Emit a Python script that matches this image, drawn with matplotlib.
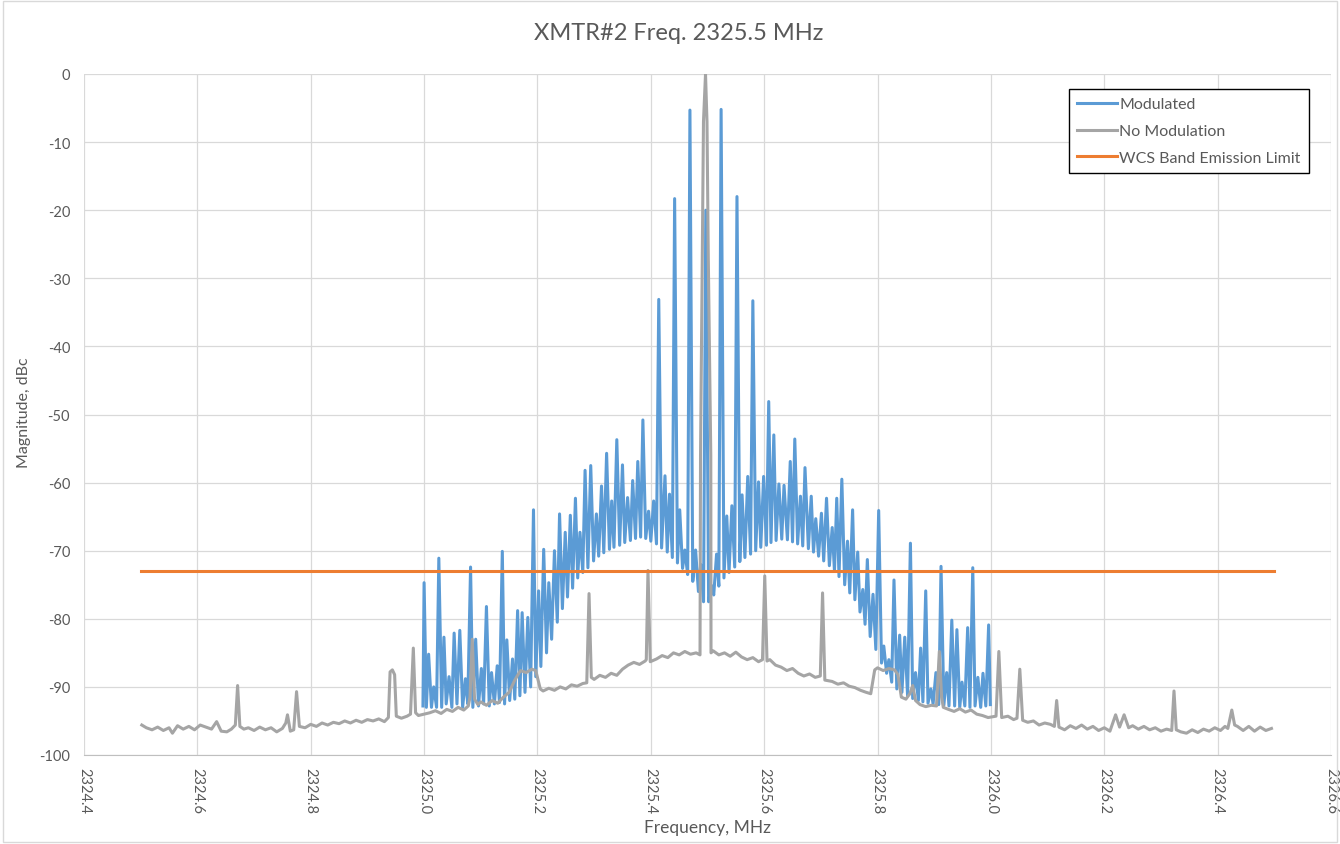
import numpy as np
import matplotlib.pyplot as plt
from matplotlib.patches import Rectangle

plt.rcParams['font.family'] = ['Lato', 'DejaVu Sans']
plt.rcParams['axes.unicode_minus'] = False

# Modulated trace: tops of the comb lines (MHz, dBc)
mod_peak_f = [
    2325.000, 2325.008, 2325.017, 2325.026, 2325.035, 2325.044, 2325.053, 2325.063, 2325.073, 2325.082,
    2325.091, 2325.101, 2325.110, 2325.119, 2325.129, 2325.138, 2325.146, 2325.156, 2325.165, 2325.173,
    2325.183, 2325.193, 2325.202, 2325.211, 2325.220, 2325.230, 2325.239, 2325.249, 2325.258, 2325.267,
    2325.275, 2325.284, 2325.294, 2325.304, 2325.313, 2325.322, 2325.331, 2325.340, 2325.350, 2325.359,
    2325.368, 2325.377, 2325.386, 2325.396, 2325.405, 2325.414, 2325.425, 2325.433, 2325.442, 2325.451,
    2325.460, 2325.469, 2325.479, 2325.488, 2325.497, 2325.507, 2325.516, 2325.524, 2325.534, 2325.543,
    2325.552, 2325.561, 2325.571, 2325.580, 2325.590, 2325.599, 2325.608, 2325.617, 2325.626, 2325.635,
    2325.646, 2325.654, 2325.664, 2325.672, 2325.683, 2325.691, 2325.701, 2325.710, 2325.720, 2325.728,
    2325.737, 2325.747, 2325.756, 2325.765, 2325.774, 2325.782, 2325.792, 2325.802, 2325.811, 2325.820,
    2325.829, 2325.839, 2325.848, 2325.858, 2325.867, 2325.876, 2325.885, 2325.894, 2325.903, 2325.912,
    2325.922, 2325.931, 2325.940, 2325.949, 2325.959, 2325.968, 2325.977, 2325.986, 2325.996]
mod_peak_db = [
    -74.7, -85.2, -90.0, -71.1, -82.7, -88.5, -82.1, -81.7, -88.8, -72.4,
    -83.0, -87.3, -78.2, -87.9, -86.9, -70.1, -83.1, -85.9, -78.8, -79.1,
    -79.8, -64.0, -75.9, -69.8, -74.7, -70.0, -64.6, -67.3, -64.8, -62.3,
    -67.3, -58.2, -57.5, -64.6, -60.5, -55.7, -62.7, -53.7, -57.4, -62.2,
    -59.7, -56.9, -50.8, -64.2, -62.7, -33.1, -59.0, -61.7, -18.3, -64.0,
    -69.9, -5.3, -69.9, -72.0, -20.0, -75.1, -70.5, -5.2, -64.9, -63.4,
    -18.0, -61.8, -59.1, -33.3, -59.9, -59.1, -48.1, -53.0, -60.2, -60.4,
    -56.9, -53.6, -62.0, -57.8, -62.0, -65.3, -64.5, -62.3, -66.6, -62.3,
    -59.5, -68.6, -64.0, -70.2, -75.7, -71.3, -76.4, -64.1, -84.0, -86.0,
    -74.3, -82.4, -82.7, -68.9, -87.9, -84.3, -75.9, -90.3, -87.9, -72.3,
    -87.9, -80.2, -81.6, -89.3, -81.3, -72.5, -88.6, -88.0, -80.9]

# Modulated trace: floor between the comb lines
mod_dip_f = [
    2324.998,
    2325.004, 2325.013, 2325.022, 2325.031, 2325.039, 2325.049, 2325.058, 2325.068, 2325.077, 2325.086,
    2325.096, 2325.105, 2325.115, 2325.124, 2325.133, 2325.142, 2325.151, 2325.160, 2325.169, 2325.178,
    2325.188, 2325.197, 2325.206, 2325.216, 2325.225, 2325.235, 2325.244, 2325.253, 2325.262, 2325.271,
    2325.280, 2325.289, 2325.299, 2325.308, 2325.317, 2325.327, 2325.335, 2325.345, 2325.354, 2325.364,
    2325.373, 2325.382, 2325.391, 2325.400, 2325.410, 2325.419, 2325.429, 2325.438, 2325.447, 2325.456,
    2325.465, 2325.474, 2325.484, 2325.493, 2325.502, 2325.511, 2325.520, 2325.529, 2325.538, 2325.548,
    2325.557, 2325.566, 2325.576, 2325.585, 2325.594, 2325.604, 2325.612, 2325.621, 2325.631, 2325.641,
    2325.650, 2325.659, 2325.668, 2325.678, 2325.687, 2325.696, 2325.705, 2325.715, 2325.724, 2325.732,
    2325.742, 2325.751, 2325.760, 2325.769, 2325.778, 2325.787, 2325.797, 2325.807, 2325.816, 2325.825,
    2325.834, 2325.843, 2325.853, 2325.862, 2325.872, 2325.880, 2325.889, 2325.898, 2325.908, 2325.917,
    2325.926, 2325.936, 2325.945, 2325.954, 2325.963, 2325.972, 2325.982, 2325.991,
    2325.999]
mod_dip_db = [
    -92.8,
    -93.0, -93.0, -93.0, -93.0, -92.5, -93.0, -92.5, -93.0, -92.5, -93.0,
    -92.8, -92.5, -92.8, -92.5, -92.3, -92.5, -92.0, -91.8, -91.3, -90.8,
    -90.0, -88.5, -87.0, -85.0, -83.0, -80.5, -78.5, -76.8, -75.5, -74.0,
    -73.2, -72.5, -71.5, -70.8, -70.3, -69.8, -69.5, -69.2, -68.8, -68.5,
    -68.2, -68.0, -68.2, -68.6, -69.0, -69.6, -70.2, -71.0, -71.8, -72.6,
    -73.5, -74.5, -76.0, -77.5, -77.5, -76.5, -75.2, -74.0, -73.2, -72.4,
    -71.6, -71.0, -70.5, -70.0, -69.5, -69.2, -68.8, -68.5, -68.3, -68.4,
    -68.7, -69.0, -69.3, -69.7, -70.2, -70.8, -71.5, -72.2, -73.0, -73.8,
    -75.0, -76.2, -77.2, -79.0, -80.8, -82.6, -84.5, -86.5, -88.0, -89.3,
    -90.3, -90.8, -91.3, -91.7, -92.0, -92.2, -92.4, -92.5, -92.6, -92.7,
    -92.8, -92.8, -93.0, -92.8, -93.0, -92.8, -93.0, -92.8,
    -92.6]

# No Modulation trace (MHz, dBc)
nomod_f = [
    2324.502, 2324.510, 2324.520, 2324.530, 2324.540, 2324.550, 2324.556, 2324.565, 2324.575, 2324.585,
    2324.595, 2324.605, 2324.615, 2324.625, 2324.634, 2324.642, 2324.652, 2324.660, 2324.667, 2324.671,
    2324.675, 2324.682, 2324.690, 2324.700, 2324.710, 2324.720, 2324.730, 2324.740, 2324.750, 2324.756,
    2324.759, 2324.764, 2324.770, 2324.775, 2324.780, 2324.790, 2324.800, 2324.810, 2324.820, 2324.830,
    2324.840, 2324.850, 2324.860, 2324.870, 2324.880, 2324.890, 2324.900, 2324.910, 2324.920, 2324.930,
    2324.937, 2324.940, 2324.944, 2324.948, 2324.951, 2324.960, 2324.970, 2324.976, 2324.981, 2324.985,
    2324.990, 2325.000, 2325.010, 2325.020, 2325.030, 2325.040, 2325.050, 2325.060, 2325.070, 2325.078,
    2325.081, 2325.085, 2325.089, 2325.095, 2325.100, 2325.110, 2325.120, 2325.130, 2325.140, 2325.150,
    2325.160, 2325.170, 2325.180, 2325.190, 2325.197, 2325.205, 2325.210, 2325.220, 2325.230, 2325.240,
    2325.250, 2325.260, 2325.270, 2325.280, 2325.287, 2325.291, 2325.295, 2325.300, 2325.310, 2325.320,
    2325.330, 2325.340, 2325.350, 2325.360, 2325.370, 2325.380, 2325.390, 2325.392, 2325.395, 2325.399,
    2325.410, 2325.420, 2325.430, 2325.440, 2325.450, 2325.460, 2325.470, 2325.480, 2325.4868, 2325.4877,
    2325.4908, 2325.4929, 2325.4965, 2325.4991, 2325.5014, 2325.5058, 2325.5062, 2325.510, 2325.520, 2325.530,
    2325.540, 2325.550, 2325.560, 2325.570, 2325.580, 2325.590, 2325.597, 2325.601, 2325.605, 2325.610,
    2325.620, 2325.630, 2325.640, 2325.650, 2325.660, 2325.670, 2325.680, 2325.690, 2325.699, 2325.703,
    2325.707, 2325.720, 2325.730, 2325.740, 2325.750, 2325.760, 2325.770, 2325.780, 2325.788, 2325.795,
    2325.800, 2325.810, 2325.820, 2325.830, 2325.836, 2325.842, 2325.850, 2325.857, 2325.862, 2325.867,
    2325.875, 2325.885, 2325.895, 2325.904, 2325.909, 2325.913, 2325.916, 2325.925, 2325.935, 2325.945,
    2325.955, 2325.965, 2325.975, 2325.985, 2325.995, 2326.009, 2326.014, 2326.019, 2326.030, 2326.040,
    2326.046, 2326.051, 2326.056, 2326.065, 2326.075, 2326.085, 2326.095, 2326.105, 2326.112, 2326.116,
    2326.120, 2326.130, 2326.140, 2326.150, 2326.160, 2326.170, 2326.180, 2326.190, 2326.200, 2326.210,
    2326.220, 2326.227, 2326.235, 2326.243, 2326.250, 2326.260, 2326.270, 2326.280, 2326.290, 2326.300,
    2326.310, 2326.319, 2326.323, 2326.327, 2326.335, 2326.345, 2326.355, 2326.365, 2326.375, 2326.385,
    2326.395, 2326.405, 2326.413, 2326.418, 2326.425, 2326.430, 2326.435, 2326.445, 2326.455, 2326.465,
    2326.475, 2326.485, 2326.495]
nomod_db = [
    -95.6, -96.0, -96.3, -95.9, -96.4, -96.0, -96.8, -95.7, -96.2, -95.8,
    -96.3, -95.6, -95.9, -96.2, -95.1, -96.5, -96.6, -96.2, -95.6, -89.8,
    -95.8, -96.2, -96.0, -96.4, -95.9, -96.3, -96.0, -96.6, -96.1, -95.3,
    -94.1, -96.5, -96.3, -90.7, -95.8, -96.0, -95.5, -95.8, -95.3, -95.6,
    -95.2, -95.4, -95.0, -95.3, -94.9, -95.2, -94.8, -95.0, -94.7, -95.1,
    -94.5, -87.8, -87.5, -88.2, -94.3, -94.6, -94.3, -94.0, -84.3, -93.8,
    -94.2, -94.0, -93.8, -93.5, -93.9, -93.3, -93.6, -93.0, -93.4, -92.8,
    -91.5, -83.0, -91.8, -92.6, -92.2, -92.7, -92.0, -92.4, -91.5, -90.8,
    -89.0, -87.6, -87.9, -87.4, -87.6, -90.3, -90.6, -90.2, -90.5, -90.0,
    -90.3, -89.7, -89.9, -89.5, -89.4, -76.3, -88.6, -88.9, -88.3, -88.6,
    -88.0, -88.3, -87.4, -86.8, -86.4, -86.7, -86.2, -86.0, -72.9, -86.3,
    -85.9, -85.4, -85.7, -85.0, -85.3, -84.8, -85.2, -85.0, -85.3, -56.0,
    -27.0, -7.0, 0.0, -7.0, -27.0, -56.0, -85.0, -84.7, -85.3, -85.0,
    -85.5, -84.9, -85.6, -86.0, -85.7, -86.3, -86.0, -73.7, -86.2, -86.0,
    -86.8, -87.1, -87.6, -87.3, -88.0, -88.4, -88.1, -88.6, -88.4, -76.2,
    -89.0, -89.2, -89.6, -89.4, -89.9, -90.1, -90.5, -90.8, -91.0, -87.5,
    -87.2, -87.6, -87.3, -87.5, -88.2, -91.5, -91.8, -91.0, -89.8, -92.0,
    -92.6, -92.9, -92.7, -92.8, -84.8, -91.5, -93.0, -93.3, -93.6, -93.2,
    -93.7, -93.4, -94.0, -94.2, -94.5, -94.3, -84.8, -94.5, -94.3, -94.8,
    -94.6, -87.4, -94.9, -95.2, -95.0, -95.6, -95.3, -95.5, -95.8, -92.0,
    -95.9, -96.3, -95.7, -96.1, -95.6, -96.2, -95.8, -96.4, -96.0, -96.5,
    -94.1, -95.9, -94.1, -96.0, -95.7, -96.2, -95.8, -96.3, -96.0, -96.5,
    -96.2, -96.4, -90.6, -96.3, -96.6, -96.8, -96.3, -96.7, -96.2, -96.5,
    -96.0, -96.4, -95.8, -96.1, -93.4, -95.6, -95.8, -96.4, -95.8, -96.5,
    -95.9, -96.4, -96.1]

# WCS band emission limit
limit_f = [2324.5, 2326.5]
limit_db = [-73.0, -73.0]

x_ticks = [2324.4, 2324.6, 2324.8, 2325.0, 2325.2, 2325.4, 2325.6, 2325.8, 2326.0, 2326.2, 2326.4, 2326.6]
x_tick_labels = ['2324.4', '2324.6', '2324.8', '2325.0', '2325.2', '2325.4',
                 '2325.6', '2325.8', '2326.0', '2326.2', '2326.4', '2326.6']
y_ticks = [0, -10, -20, -30, -40, -50, -60, -70, -80, -90, -100]

# put the modulated tops and floor points in frequency order
mod_f = np.array(mod_peak_f + mod_dip_f)
mod_db = np.array(mod_peak_db + mod_dip_db)
order = np.argsort(mod_f)
mod_f = mod_f[order]
mod_db = mod_db[order]

txt = '#595959'
W, H = 1340, 845
fig = plt.figure(figsize=(W / 100, H / 100), dpi=100)
ax = fig.add_axes([84 / W, 1 - 756 / H, (1331 - 84) / W, (756 - 75) / H])

ax.plot(mod_f, mod_db, color='#5b9bd5', lw=2.2, label='Modulated', solid_joinstyle='round')
ax.plot(nomod_f, nomod_db, color='#a5a5a5', lw=2.2, label='No Modulation', solid_joinstyle='round')
ax.plot(limit_f, limit_db, color='#ed7d31', lw=2.2, label='WCS Band Emission Limit')

ax.set_xlim(2324.4, 2326.6)
ax.set_ylim(-100, 0)
ax.set_xticks(x_ticks)
ax.set_xticklabels(x_tick_labels, rotation=-90)
ax.set_yticks(y_ticks)
ax.grid(True, color='#d9d9d9', lw=0.9)
ax.set_axisbelow(True)
for s in ['top', 'right', 'left']:
    ax.spines[s].set_visible(False)
ax.spines['bottom'].set_color('#bfbfbf')
ax.tick_params(axis='both', length=0, colors=txt, labelsize=10.5)
ax.tick_params(axis='y', pad=10)
ax.tick_params(axis='x', pad=9)

leg = ax.legend(loc='upper right', bbox_to_anchor=(0.982, 0.978), fontsize=11.5,
                frameon=True, fancybox=False, edgecolor='black', framealpha=1,
                borderaxespad=0, borderpad=0.5, labelspacing=0.8,
                handlelength=2.5, handletextpad=0.15)
leg.get_frame().set_linewidth(1.0)
for t in leg.get_texts():
    t.set_color(txt)

fig.text(679 / W, 1 - 33 / H, 'XMTR#2 Freq. 2325.5 MHz', ha='center', va='center',
         fontsize=17, color=txt)
fig.text(24 / W, 1 - 413 / H, 'Magnitude, dBc', rotation=90, ha='center', va='center',
         fontsize=11.5, color=txt)
fig.text(707 / W, 1 - 828 / H, 'Frequency, MHz', ha='center', va='center',
         fontsize=12.5, color=txt)

fig.patches.append(Rectangle((0.002, 0.002), 0.996, 0.996, transform=fig.transFigure,
                             fill=False, edgecolor='#d9d9d9', lw=1))

fig.savefig('out.png', dpi=100)
